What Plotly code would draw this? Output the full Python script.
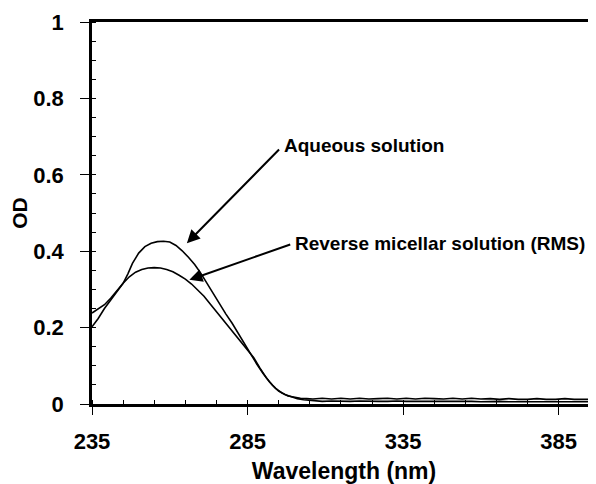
import plotly.graph_objects as go

# ---- data ----
aq_wl = [235, 237, 239, 241, 243, 245, 246.5, 248, 250, 252, 254, 256, 258, 260, 262, 264, 266, 268,
         270, 272, 274, 276, 278, 280, 282, 284, 286, 288, 290, 292, 294, 296, 298, 300, 302, 304,
         306, 309, 312, 315, 318, 321, 324, 327, 330, 333, 336, 339, 342, 345, 348, 351, 354, 357,
         360, 363, 366, 369, 372, 375, 378, 381, 384, 387, 390, 393, 396]
aq_od = [0.202, 0.224, 0.250, 0.272, 0.295, 0.316, 0.340, 0.368, 0.395, 0.412, 0.421, 0.425, 0.426,
         0.424, 0.415, 0.401, 0.384, 0.365, 0.342, 0.315, 0.288, 0.260, 0.236, 0.212, 0.185, 0.157,
         0.130, 0.104, 0.080, 0.058, 0.041, 0.029, 0.021, 0.017, 0.015, 0.014,
         0.013, 0.015, 0.013, 0.015, 0.013, 0.015, 0.013, 0.014, 0.015, 0.013, 0.015, 0.013, 0.015,
         0.014, 0.013, 0.015, 0.013, 0.015, 0.013, 0.014, 0.012, 0.014, 0.012, 0.012, 0.014, 0.012,
         0.012, 0.014, 0.012, 0.012, 0.012]

rms_wl = [235, 237, 239, 241, 243, 245, 247, 249, 251, 253, 255, 257, 259, 261, 263, 265, 267, 269,
          271, 273, 275, 277, 279, 281, 283, 285, 287, 289, 291, 293, 295, 297, 299, 301, 303, 304,
          306, 309, 312, 315, 318, 321, 324, 327, 330, 333, 336, 339, 342, 345, 348, 351, 354, 357,
          360, 363, 366, 369, 372, 375, 378, 381, 384, 387, 390, 393, 396]
rms_od = [0.238, 0.250, 0.260, 0.277, 0.297, 0.316, 0.333, 0.345, 0.352, 0.356, 0.357, 0.356, 0.352,
          0.346, 0.337, 0.327, 0.314, 0.299, 0.282, 0.262, 0.242, 0.223, 0.202, 0.182, 0.163, 0.143,
          0.121, 0.094, 0.069, 0.049, 0.034, 0.025, 0.019, 0.014, 0.011, 0.010,
          0.008, 0.007, 0.008, 0.007, 0.007, 0.008, 0.007, 0.007, 0.007, 0.008, 0.007, 0.007, 0.007,
          0.007, 0.008, 0.007, 0.007, 0.007, 0.006, 0.007, 0.007, 0.006, 0.006, 0.007, 0.006, 0.006,
          0.006, 0.006, 0.006, 0.006, 0.006]

x_ticks = [235, 285, 335, 385]
y_ticks = [0, 0.2, 0.4, 0.6, 0.8, 1]
y_tick_labels = ["0", "0.2", "0.4", "0.6", "0.8", "1"]

labels = ["Aqueous solution", "Reverse micellar solution (RMS)"]
# (arrow tip x, tip y, arrow tail x, tail y, text x, text y)
label_pos = [(265.5, 0.421, 295.6, 0.670, 296.2, 0.678),
             (266.3, 0.325, 299.2, 0.419, 299.5, 0.421)]

FONT = "Liberation Sans, Arial, sans-serif"

fig = go.Figure()
fig.add_trace(go.Scatter(x=aq_wl, y=aq_od, mode="lines", line=dict(color="black", width=1.6),
                         name=labels[0], showlegend=False))
fig.add_trace(go.Scatter(x=rms_wl, y=rms_od, mode="lines", line=dict(color="black", width=1.6),
                         name=labels[1], showlegend=False))

for text, (tx, ty, ax, ay, lx, ly) in zip(labels, label_pos):
    fig.add_annotation(x=tx, y=ty, ax=ax, ay=ay, xref="x", yref="y", axref="x", ayref="y",
                       text="", showarrow=True, arrowhead=2, arrowsize=1.3, arrowwidth=2,
                       arrowcolor="black")
    fig.add_annotation(x=lx, y=ly, xref="x", yref="y", text=text, showarrow=False,
                       xanchor="left", yanchor="middle",
                       font=dict(family=FONT, size=19, color="black", weight="bold"))

# the page body adds an 8px offset, so the figure is 8px smaller and margins shifted
fig.update_layout(
    width=588, height=476,
    margin=dict(l=84, r=0, t=14, b=80),
    paper_bgcolor="white", plot_bgcolor="white",
    font=dict(family=FONT, color="black"),
)
fig.update_xaxes(
    range=[235, 397], tickvals=x_ticks, ticktext=[str(v) for v in x_ticks],
    automargin=False,
    showgrid=False, zeroline=False, showline=True, linecolor="black", linewidth=2.5,
    mirror=True, ticks="outside", ticklen=8, tickwidth=1, tickcolor="black",
    ticklabelstandoff=8,
    tickfont=dict(family=FONT, size=22, color="black", weight="bold"),
    minor=dict(dtick=10, tick0=235, ticks="inside", ticklen=4, tickwidth=1, tickcolor="black",
               showgrid=False),
    title=dict(text="Wavelength (nm)", standoff=15,
               font=dict(family=FONT, size=23, color="black", weight="bold")),
)
fig.update_yaxes(
    range=[0, 1], tickvals=y_ticks, ticktext=y_tick_labels,
    automargin=False,
    showgrid=False, zeroline=False, showline=True, linecolor="black", linewidth=2.5,
    ticks="outside", ticklen=9, tickwidth=1, tickcolor="black",
    ticklabelstandoff=12,
    tickfont=dict(family=FONT, size=22, color="black", weight="bold"),
    minor=dict(dtick=0.05, tick0=0, ticks="inside", ticklen=4, tickwidth=1, tickcolor="black",
               showgrid=False),
    title=dict(text="OD", standoff=2,
               font=dict(family=FONT, size=21, color="black", weight="bold")),
)

fig.write_html("out.html")
